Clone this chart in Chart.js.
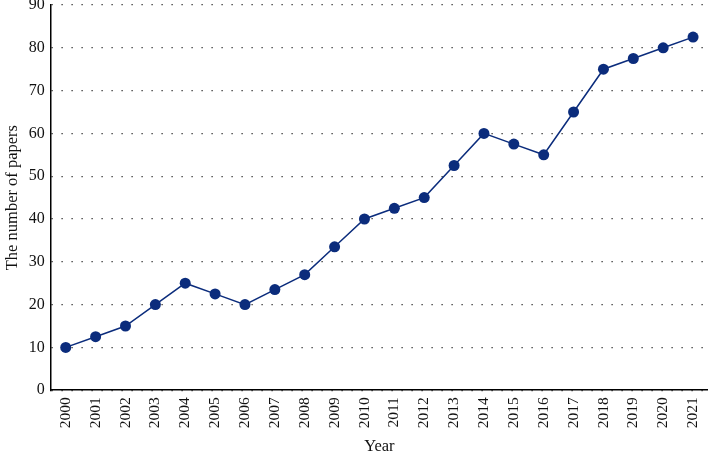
<!DOCTYPE html>
<html>
<head>
<meta charset="utf-8">
<script src="https://cdn.jsdelivr.net/npm/chart.js@4.4.1/dist/chart.umd.min.js"></script>
<style>
  html, body { margin: 0; padding: 0; background: #fff; }
  #wrap { width: 708px; height: 453px; }
</style>
</head>
<body>
<div id="wrap"><canvas id="paperChart"></canvas></div>
<script>
// Data
const years = ['2000', '2001', '2002', '2003', '2004', '2005', '2006', '2007', '2008', '2009', '2010',
               '2011', '2012', '2013', '2014', '2015', '2016', '2017', '2018', '2019', '2020', '2021'];
const papers = [10, 12.5, 15, 20, 25, 22.5, 20, 23.5, 27, 33.5, 40,
                42.5, 45, 52.5, 60, 57.5, 55, 65, 75, 77.5, 80, 82.5];
const yMin = 0;
const yMax = 90;
const yStep = 10;

const navy = '#0b2c7c';
const serif = "'Liberation Serif', 'DejaVu Serif', serif";

Chart.defaults.font.family = serif;
Chart.defaults.color = '#111';

// drop the extra room Chart.js keeps for the outer tick labels
function noEdgePadding(scale) {
    scale.paddingTop = 0;
    scale.paddingRight = 0;
}

const ctx = document.getElementById('paperChart').getContext('2d');
new Chart(ctx, {
    type: 'line',
    data: {
        labels: years,
        datasets: [{
            data: papers,
            borderColor: navy,
            backgroundColor: navy,
            borderWidth: 1.5,
            pointRadius: 5.5,
            pointBackgroundColor: navy,
            pointBorderWidth: 0,
            tension: 0,
            fill: false,
            clip: false
        }]
    },
    options: {
        responsive: true,
        maintainAspectRatio: false,
        animation: false,
        layout: { autoPadding: false, padding: { left: 0, right: 0, top: 5, bottom: 0 } },
        plugins: {
            legend: { display: false },
            tooltip: { enabled: false }
        },
        scales: {
            x: {
                offset: true,
                afterFit: noEdgePadding,
                grid: { display: false, drawTicks: false },
                border: { display: true, color: '#000', width: 1.5 },
                ticks: {
                    minRotation: 90,
                    maxRotation: 90,
                    autoSkip: false,
                    padding: 7,
                    font: { size: 15.5 },
                    color: '#111'
                },
                title: {
                    display: true,
                    text: 'Year',
                    font: { size: 16.5 },
                    color: '#111',
                    padding: { top: 2, bottom: -4 }
                }
            },
            y: {
                min: yMin,
                max: yMax,
                afterFit: noEdgePadding,
                grid: { color: '#222', lineWidth: 1.2, drawTicks: false },
                border: { display: true, color: '#000', width: 1.5, dash: [1.2, 8.8] },
                ticks: {
                    stepSize: yStep,
                    padding: 6,
                    font: { size: 16 },
                    color: '#111'
                },
                title: {
                    display: true,
                    text: 'The number of papers',
                    font: { size: 16.5 },
                    color: '#111',
                    padding: { top: 3, bottom: 0 }
                }
            }
        }
    }
});
</script>
</body>
</html>
